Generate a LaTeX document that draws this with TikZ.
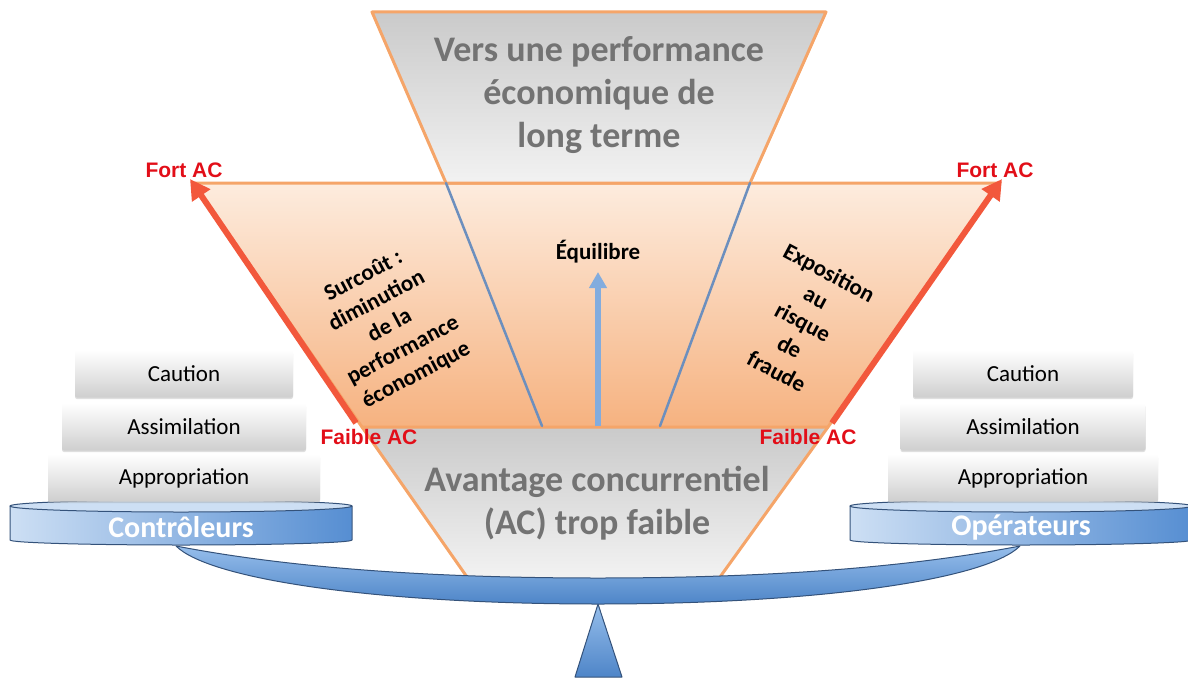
\documentclass[tikz,border=0pt]{standalone}
\usepackage{fontspec}
\setmainfont{Carlito}
\newfontfamily\arialfont{Liberation Sans}
\usetikzlibrary{arrows.meta,shadows}

\definecolor{funnelline}{RGB}{245,165,105}
\definecolor{bandpale}{RGB}{253,236,222}
\definecolor{banddeep}{RGB}{246,178,128}
\definecolor{greytop}{RGB}{202,202,202}
\definecolor{greybot}{RGB}{242,242,242}
\definecolor{titlegrey}{RGB}{115,115,115}
\definecolor{splitblue}{RGB}{108,143,190}
\definecolor{eqblue}{RGB}{130,172,222}
\definecolor{acred}{RGB}{226,14,24}
\definecolor{arrowred}{RGB}{242,88,60}
\definecolor{platelight}{RGB}{205,223,244}
\definecolor{platedark}{RGB}{86,142,210}
\definecolor{plateedge}{RGB}{52,82,122}
\definecolor{beamlight}{RGB}{150,190,235}
\definecolor{beamdark}{RGB}{78,133,200}

\begin{document}
\begin{tikzpicture}[line cap=round, line join=round, x=1pt, y=-1pt,
    funnel/.style={draw=funnelline, line width=3pt},
    greyzone/.style={top color=greytop, bottom color=greybot},
    split/.style={draw=splitblue, line width=2.5pt},
    title/.style={font=\bfseries\fontsize{36}{43}\selectfont, text=titlegrey, align=center},
    zone/.style={font=\bfseries\fontsize{23}{28}\selectfont, align=center},
    aclabel/.style={font=\arialfont\bfseries\fontsize{21}{24}\selectfont, text=acred},
    acarrow/.style={line width=6pt, draw=arrowred, line cap=butt, -{Triangle[width=21pt,length=20pt]}},
    eqarrow/.style={line width=6pt, draw=eqblue, line cap=butt, -{Triangle[width=17pt,length=16pt]}},
    stackbox/.style={rounded corners=2pt, top color=white, bottom color=black!19, minimum height=47pt,
        inner sep=0pt, font=\fontsize{23}{27}\selectfont,
        drop shadow={opacity=0.25, shadow xshift=0pt, shadow yshift=-1.5pt}},
    plate/.style={draw=plateedge, line width=1pt, left color=platelight, right color=platedark},
    platetop/.style={draw=plateedge, line width=1pt, fill=platelight},
    platename/.style={font=\bfseries\fontsize{30}{32}\selectfont, text=white},
    beam/.style={draw=plateedge, line width=1pt, top color=beamlight, bottom color=beamdark}]
    \useasboundingbox (0,0) rectangle (1188,677);
    \coordinate (tl) at (372,12);
    \coordinate (tr) at (826,12);
    \coordinate (ml) at (446,183);
    \coordinate (mr) at (750,183);
    \coordinate (fl) at (193,183);
    \coordinate (fr) at (1000,183);
    \coordinate (gl) at (362,427);
    \coordinate (gr) at (828,427);
    \coordinate (hl) at (467,577);
    \coordinate (hr) at (720,577);
    \coordinate (sl) at (542,426);
    \coordinate (sr) at (660,426);
    \coordinate (eqbase) at (598,426);
    \coordinate (eqtip) at (598,272);
    \coordinate (taill) at (356,423);
    \coordinate (tipl) at (190,179);
    \coordinate (tailr) at (832,423);
    \coordinate (tipr) at (1002,179);

    % funnel
    \shade[greyzone] (gl) -- (gr) -- (hr) -- (hl) -- cycle;
    \draw[funnel] (gl) -- (hl) (gr) -- (hr);
    \draw[funnel, top color=bandpale, bottom color=banddeep] (fl) -- (fr) -- (gr) -- (gl) -- cycle;
    \draw[funnel, greyzone] (tl) -- (tr) -- (mr) -- (ml) -- cycle;
    \draw[split] (ml) -- (sl);
    \draw[split] (mr) -- (sr);
    \draw[eqarrow] (eqbase) -- (eqtip);
    \draw[acarrow] (taill) -- (tipl);
    \draw[acarrow] (tailr) -- (tipr);

    % balance
    \draw[beam] (598,604) -- (622,677) -- (575,677) -- cycle;
    \draw[beam] (176,546) .. controls (300,570) and (450,578) .. (598,578)
        .. controls (746,578) and (896,570) .. (1020,546)
        .. controls (986,580) and (816,604) .. (598,604)
        .. controls (380,604) and (210,580) .. (176,546) -- cycle;
    \foreach \cx/\who in {181/Contr\^oleurs, 1021/Op\'erateurs} {
        \draw[plate] (\cx-171,506) -- (\cx-171,540)
            arc[start angle=180, end angle=0, x radius=171, y radius=5] -- (\cx+171,506) -- cycle;
        \draw[platetop] (\cx,506) ellipse[x radius=171, y radius=6];
        \node[platename] at (\cx,527) {\who};
    }
    \foreach \side/\cx/\wa/\wb/\wc in {l/184/218/244/272, r/1023/220/245/270} {
        \node[stackbox, minimum width=\wa pt] (caution-\side) at (\cx,374) {Caution};
        \node[stackbox, minimum width=\wb pt] (assim-\side) at (\cx,427) {Assimilation};
        \node[stackbox, minimum width=\wc pt] (approp-\side) at (\cx,478) {Appropriation};
    }

    % texts
    \node[title] (longterm) at (599,95) {Vers une performance\\économique de\\long terme};
    \node[title] (lowac) at (597,503) {Avantage concurrentiel\\(AC) trop faible};
    \node[zone] (surcout) at (390,326) [rotate=28] {Surcoût :\\diminution\\de la\\performance\\économique};
    \node[zone] (fraude) at (803,322) [rotate=-28] {Exposition\\au\\risque\\de\\fraude};
    \node[zone] (equil) at (598,252) {Équilibre};
    \node[aclabel] (fort-l) at (184,170) {Fort AC};
    \node[aclabel] (fort-r) at (995,170) {Fort AC};
    \node[aclabel] (faible-l) at (369,437) {Faible AC};
    \node[aclabel] (faible-r) at (808,437) {Faible AC};
\end{tikzpicture}
\end{document}
